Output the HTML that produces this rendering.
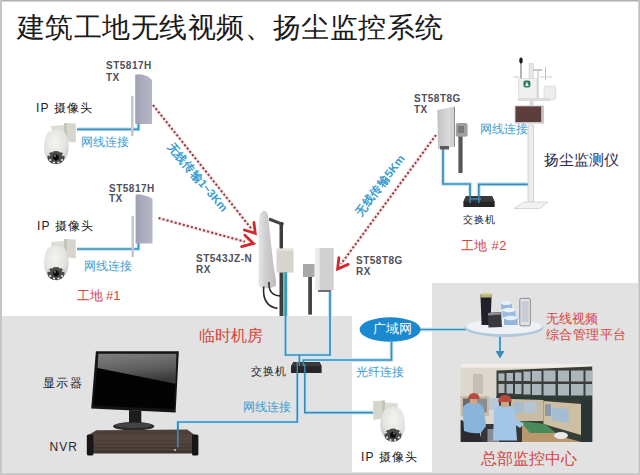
<!DOCTYPE html>
<html><head><meta charset="utf-8">
<style>
html,body{margin:0;padding:0;}
body{width:640px;height:475px;position:relative;overflow:hidden;background:#fff;font-family:"Liberation Sans",sans-serif;}
.t{position:absolute;white-space:nowrap;line-height:1;}
.lbl{font-size:10px;color:#50505a;letter-spacing:0.5px;font-weight:bold;}
.cn{font-size:12px;color:#222;letter-spacing:1.2px;font-weight:500;}
.blue{color:#3a9cd0;font-size:12px;}
.red{color:#d4453f;}
svg{position:absolute;left:0;top:0;}
</style></head>
<body>
<svg width="640" height="475" viewBox="0 0 640 475">
  <defs>
    <linearGradient id="panelg" x1="0" x2="1" y1="0" y2="0">
      <stop offset="0" stop-color="#9ea0b2"/><stop offset="0.35" stop-color="#a9abbc"/><stop offset="1" stop-color="#b4b6c6"/>
    </linearGradient>
    <linearGradient id="refl" x1="0" x2="0.25" y1="0" y2="1">
      <stop offset="0" stop-color="#808080"/><stop offset="0.6" stop-color="#5e5e5e"/><stop offset="1" stop-color="#3a3a3a"/>
    </linearGradient>
    <linearGradient id="sector" x1="0" x2="1" y1="0" y2="0">
      <stop offset="0" stop-color="#e6e6e6"/><stop offset="0.4" stop-color="#cfcfd2"/><stop offset="1" stop-color="#bdbdc0"/>
    </linearGradient>
    <linearGradient id="txr" x1="0" x2="1" y1="0" y2="0"><stop offset="0" stop-color="#c2c2c4"/><stop offset="1" stop-color="#dcdcde"/></linearGradient>
    <radialGradient id="dome" cx="0.45" cy="0.35" r="0.75">
      <stop offset="0" stop-color="#f4f4f2"/><stop offset="0.6" stop-color="#e2e2de"/><stop offset="1" stop-color="#b8b8b4"/>
    </radialGradient>
    <linearGradient id="nvrf" x1="0" x2="0" y1="0" y2="1">
      <stop offset="0" stop-color="#56463f"/><stop offset="1" stop-color="#3e332e"/>
    </linearGradient>
    <g id="cam">
      <path d="M26,7 L37.8,7.5 L37.8,26.5 L26,25 Z" fill="#d6d6cc"/>
      <path d="M26,7 L29,7 L29,25.5 L26,25 Z" fill="#c4c4b8"/>
      <path d="M13,10 L26,9 L26,17 L14,17 Z" fill="#dcdcd4"/>
      <path d="M10,16 Q6,22 6,31 Q6,45 18.3,48.7 Q30.6,45 30.6,31 Q30.6,22 26.6,16 Q23,13.5 18.3,13.5 Q13.6,13.5 10,16 Z" fill="url(#dome)"/>
      <ellipse cx="18" cy="41.5" rx="8.6" ry="6.6" fill="#4a4a4a"/>
      <g fill="#e8e8e8">
        <circle cx="11.2" cy="39" r="1.1"/><circle cx="12.2" cy="44" r="1.1"/><circle cx="16" cy="46.5" r="1.1"/><circle cx="20.5" cy="46.5" r="1.1"/><circle cx="24" cy="44" r="1.1"/><circle cx="25" cy="39" r="1.1"/><circle cx="14" cy="35.5" r="1"/><circle cx="22" cy="35.5" r="1"/>
      </g>
      <circle cx="18" cy="41.5" r="2.9" fill="#0a0a0a"/>
      <circle cx="17" cy="40" r="0.9" fill="#888"/>
    </g>
  </defs>
  <!-- frame -->
  <rect x="0" y="0" width="640" height="475" fill="#fff"/>
  <!-- gray regions -->
  <rect x="2" y="316" width="350" height="156" fill="#e2e2e2"/>
  <rect x="432" y="283" width="206" height="189" fill="#e2e2e2"/>
  <rect x="0" y="0" width="640" height="1.5" fill="#b0b0b0"/>
  <rect x="0" y="0" width="2" height="475" fill="#c6c6c6"/>
  <rect x="638.3" y="0" width="1.7" height="475" fill="#c0c0c0"/>
  <rect x="0" y="472.5" width="640" height="2.5" fill="#c8c8c8"/>

  <!-- blue lines -->
  <g stroke="#c4e8f8" stroke-width="4" fill="none" stroke-linejoin="miter">
    <polyline points="77,129.3 138.5,129.3 138.5,124"/>
    <polyline points="77,249 138.5,249 138.5,243"/>
    <polyline points="285.5,272 285.5,355 330,355 330,290"/>
    <polyline points="299.4,355 299.4,362"/>
    <polyline points="303.3,362 303.3,360 391.5,360 391.5,342"/>
    <polyline points="297.3,372 297.3,422 177.8,422 177.8,447.2"/>
    <polyline points="304.8,372 304.8,412.6 373,412.6"/>
    <polyline points="420,329.5 466,329.5"/>
    <polyline points="443,149 443,184 470,184 470,196"/>
    <polyline points="478.8,196 478.8,184.3 528,184.3"/>
    <polyline points="500,336 500,353"/>
  </g>
  <g stroke="#3c8ab6" stroke-width="1.7" fill="none">
    <polyline points="77,129.3 138.5,129.3 138.5,124"/>
    <polyline points="77,249 138.5,249 138.5,243"/>
    <polyline points="285.5,272 285.5,355 330,355 330,290"/>
    <polyline points="299.4,355 299.4,362"/>
    <polyline points="303.3,362 303.3,360 391.5,360 391.5,342"/>
    <polyline points="297.3,372 297.3,422 177.8,422 177.8,447.2"/>
    <polyline points="304.8,372 304.8,412.6 373,412.6"/>
    <polyline points="420,329.5 466,329.5"/>
    <polyline points="443,149 443,184 470,184 470,196"/>
    <polyline points="478.8,196 478.8,184.3 528,184.3"/>
    <polyline points="500,336 500,353"/>
  </g>
  <path d="M495.5,351 L500,358.5 L504.5,351 Z" fill="#3c8ab6"/>

  <!-- red dashed arrows -->
  <g stroke="#f8e2e2" stroke-width="3.6" fill="none">
    <line x1="153" y1="105" x2="252" y2="229.5"/>
    <line x1="158.5" y1="218" x2="245" y2="241.7"/>
    <line x1="436" y1="135" x2="341" y2="264"/>
  </g>
  <g stroke="#8a3c44" stroke-width="2" stroke-dasharray="2,2.2" fill="none">
    <line x1="153" y1="105" x2="252" y2="229.5"/>
    <line x1="158.5" y1="218" x2="245" y2="241.7"/>
    <line x1="436" y1="135" x2="341" y2="264"/>
  </g>
  <g stroke="#d02a2e" stroke-width="2.8" fill="none" stroke-linecap="round" stroke-linejoin="miter">
    <polyline points="244.4,230 255.3,233.4 253.9,222.5"/>
    <polyline points="244.9,235.3 253.4,243.4 241.6,246.7"/>
    <polyline points="338.9,257.7 337.6,269 348.2,264.4"/>
  </g>

  <!-- TX antenna 1 -->
  <rect x="131" y="96" width="2.5" height="40" fill="#c6c6cc"/>
  <path d="M135.2,75 Q136,74 140,74.3 Q148,75.5 152,80 L152,124 L135.2,124 Z" fill="url(#panelg)"/>
  <!-- TX antenna 2 -->
  <rect x="131.5" y="216" width="2.5" height="41" fill="#c6c6cc"/>
  <path d="M135.6,195 Q136.5,194.2 140,194.4 Q148,195.5 152.5,199 L152.5,243.4 L135.6,243.4 Z" fill="url(#panelg)"/>

  <!-- cameras -->
  <use href="#cam" x="38" y="116"/>
  <use href="#cam" x="38" y="232"/>
  <g transform="translate(411,393.5) scale(-1,1)"><use href="#cam"/></g>

  <!-- center sector antenna -->
  <path d="M269,219 L283.5,224.6" stroke="#444" stroke-width="3"/>
  <rect x="279.5" y="222" width="3.5" height="94" fill="#3e3e3e"/>
  <path d="M258.5,284 L258.8,222 Q259.5,210.7 264,210.7 Q267.5,211 268,216 L273.4,265 L276,280 L276,286 Q270,289 262,288 Q258.5,287.5 258.5,284 Z" fill="url(#sector)"/>
  <path d="M263.7,286.5 Q262,306 277.4,308.4" stroke="#2a2a2a" stroke-width="1.6" fill="none"/>
  <path d="M269,282 Q268,296 281.5,296" stroke="#2a2a2a" stroke-width="1.6" fill="none"/>
  <rect x="276.5" y="248.6" width="17" height="24" fill="#d6d4cc"/>
  <rect x="276.5" y="248.6" width="17" height="2" fill="#e8e6e0"/>
  <g stroke="#3aa0b4" stroke-width="1.3"><line x1="284" y1="272" x2="284" y2="316"/><line x1="286.5" y1="272" x2="286.5" y2="316"/></g>

  <!-- right RX panel -->
  <rect x="308.2" y="276" width="3.8" height="38.6" fill="#454545"/>
  <rect x="303" y="264" width="11.5" height="13" fill="#a8a8a8"/>
  <rect x="315.7" y="248" width="18" height="42" fill="#d0d0d2"/>
  <rect x="315.7" y="248" width="4" height="42" fill="#ececec"/>
  <rect x="318" y="290" width="13" height="2" fill="#707070"/>

  <!-- TX right antenna -->
  <rect x="458.4" y="136" width="4.2" height="37" fill="#585858"/>
  <rect x="455.8" y="123" width="11.8" height="13.8" rx="2" fill="#a0a0a0"/>
  <rect x="458" y="126" width="6" height="7" fill="#787878"/>
  <path d="M437.3,110 L450,107.5 L450,147.5 L438,149 Z" fill="url(#txr)"/>
  <path d="M450,107.5 L455,106.5 L455,146.5 L450,147.5 Z" fill="#d2d2d2"/>
  <line x1="454.5" y1="106.8" x2="454.5" y2="146.6" stroke="#8a8a8a" stroke-width="1"/>
  <rect x="440" y="146" width="9" height="3.5" fill="#5a5a5a"/>

  <!-- switches -->
  <path d="M466,196 L492,196 L494.7,201.7 L494.7,207 L463.4,207 L463.4,201.7 Z" fill="#262628"/>
  <path d="M466,196 L492,196 L494.7,201.7 L463.4,201.7 Z" fill="#3a3a3c"/>
  <g stroke="#3c8ab6" stroke-width="1.4"><line x1="470" y1="196" x2="470" y2="203"/><line x1="478.8" y1="196" x2="478.8" y2="203"/><line x1="470" y1="199" x2="481" y2="199"/></g>
  <path d="M293.5,362 L319.5,362 L321.6,366.2 L321.6,372.9 L291,372.9 L291,366.2 Z" fill="#262628"/>
  <path d="M293.5,362 L319.5,362 L321.6,366.2 L291,366.2 Z" fill="#3a3a3c"/>
  <g stroke="#3c8ab6" stroke-width="1.4"><line x1="297.3" y1="362" x2="297.3" y2="373"/><line x1="299.4" y1="362" x2="299.4" y2="366"/><line x1="303.3" y1="362" x2="303.3" y2="366"/><line x1="304.8" y1="364" x2="304.8" y2="373"/></g>

  <!-- dust monitor -->
  <rect x="528" y="125" width="5.5" height="78" fill="#ececec" stroke="#c4c4c4" stroke-width="0.7"/>
  <path d="M514,208.5 L524,202 L548,202 L540,208.5 Z" fill="#f2f2f2" stroke="#c8c8c8" stroke-width="0.7"/>
  <rect x="514.7" y="105.5" width="29.3" height="18.1" fill="#c8c8c8"/>
  <rect x="515.5" y="106.4" width="25.7" height="15.6" fill="#5e3e3c"/>
  <line x1="521" y1="62" x2="521" y2="79" stroke="#8a8a8a" stroke-width="1.3"/>
  <ellipse cx="521" cy="60.5" rx="1.7" ry="3" fill="#1a1a1a"/>
  <rect x="529" y="63.4" width="4.6" height="15" fill="#e6e6e6" stroke="#d2d2d2" stroke-width="0.6"/>
  <line x1="533" y1="70" x2="542" y2="70" stroke="#9a9a9a" stroke-width="1.1"/>
  <line x1="538" y1="70" x2="538" y2="98" stroke="#c8c8c8" stroke-width="1.3"/>
  <line x1="545.5" y1="67" x2="545.5" y2="80" stroke="#c0c0c0" stroke-width="1"/>
  <line x1="540" y1="77" x2="552" y2="77" stroke="#d0d0d0" stroke-width="1"/>
  <line x1="514" y1="77" x2="519" y2="77" stroke="#c8c8c8" stroke-width="1"/>
  <rect x="518.8" y="78.7" width="18.2" height="21" fill="#f0f0f0" stroke="#cdcdcd" stroke-width="0.6"/>
  <rect x="523.4" y="80.4" width="7" height="7" rx="2" fill="#2b7d5e"/>
  <path d="M525,86 L526.9,81.5 L528.8,86 Z" fill="#e8f0e8"/>
  <rect x="544" y="86" width="11.7" height="13.7" rx="2" fill="#ededed" stroke="#cfcfcf" stroke-width="0.6"/>
  <rect x="518" y="98" width="32" height="3" fill="#dcdcdc"/>
  <rect x="529.5" y="101" width="4" height="5" fill="#d8d8d8"/>

  <!-- monitor -->
  <path d="M95.9,351.3 L178.8,351.3 L175.6,412.5 L91.2,408.5 Z" fill="#141414"/>
  <path d="M98.3,353.7 L176.4,353.7 L174,409 L93.5,405.8 Z" fill="#030303"/>
  <path d="M98.3,353.7 L176.4,353.7 L175.6,383.7 L97.5,368 Z" fill="url(#refl)"/>
  <path d="M129,410 L141.3,410.5 L141.3,424 L129,424 Z" fill="#1c1c1c"/>
  <ellipse cx="133.7" cy="426.3" rx="20.7" ry="4.3" fill="#2a2a2a"/>
  <ellipse cx="133.7" cy="425.3" rx="18" ry="2.6" fill="#444"/>
  <!-- NVR -->
  <path d="M86.9,436 L96.3,430.3 L187.2,429.4 L196,436 Z" fill="#4c403c"/>
  <rect x="86.9" y="435" width="110.6" height="18.5" fill="url(#nvrf)"/>
  <g stroke="#5a4c48" stroke-width="0.8"><line x1="94" y1="439" x2="191" y2="439"/><line x1="94" y1="442.5" x2="191" y2="442.5"/><line x1="94" y1="446" x2="191" y2="446"/><line x1="94" y1="449.5" x2="191" y2="449.5"/></g>
  <rect x="86.9" y="434.5" width="6.5" height="21" rx="1.5" fill="#161616"/>
  <rect x="192" y="434.5" width="6.4" height="21" rx="1.5" fill="#161616"/>
  <circle cx="175" cy="450" r="0.9" fill="#ddd"/>
  <polyline points="177.8,422 177.8,447.2" stroke="#3c8ab6" stroke-width="1.7" fill="none"/>

  <!-- WAN ellipse -->
  <ellipse cx="390.1" cy="329.5" rx="30.5" ry="12.2" fill="#1b89d0"/>

  <!-- platform -->
  <ellipse cx="504" cy="328" rx="39" ry="9" fill="#b4c8dc"/>
  <ellipse cx="504" cy="326.5" rx="38" ry="7.5" fill="#eef2f6"/>
  <path d="M480.4,294 L491.6,294 L490.5,325 L481.6,325 Z" fill="#20202a"/>
  <ellipse cx="486" cy="294.5" rx="5.6" ry="2.2" fill="#d8d49a"/>
  <rect x="480.4" y="294.5" width="11.2" height="3" fill="#b8b47a"/>
  <path d="M488,313 L501,312 L502,327 L488.5,327.5 Z" fill="#38383c"/>
  <path d="M488,313 L501,312 L502,314.5 L488.2,315.5 Z" fill="#8a8a90"/>
  <g>
    <rect x="501" y="303" width="11" height="6" fill="#98b8dc"/><ellipse cx="506.5" cy="303" rx="5.5" ry="2" fill="#e8f0f8"/>
    <rect x="502.5" y="310" width="13" height="7" fill="#9cbce0"/><ellipse cx="509" cy="310" rx="6.5" ry="2.2" fill="#eaf2fa"/>
    <rect x="504" y="318" width="13.7" height="7" fill="#94b4d8"/><ellipse cx="510.8" cy="318" rx="6.8" ry="2.2" fill="#e4eef8"/>
  </g>
  <rect x="519.8" y="298.4" width="10.5" height="27.4" rx="1.5" fill="#e2e2e6" stroke="#80808a" stroke-width="0.9"/>
  <rect x="521.5" y="301" width="7" height="21" fill="#c8ccd4"/>

  <!-- control center photo -->
  <rect x="460.6" y="363.6" width="131.6" height="78.4" fill="#ddd8ce"/>
  <rect x="460.6" y="363.6" width="131.6" height="4" fill="#f0ede6"/>
  <rect x="473" y="374" width="10" height="20" fill="#c4c0b8"/>
  <path d="M496.5,370.5 L592.2,366.5 L592.2,442 L496.5,442 Z" fill="#3a3e38"/>
  <g fill="#aab6bc">
    <rect x="498.5" y="373.4" width="6" height="7.5"/><rect x="506.5" y="373" width="6.5" height="8"/><rect x="515" y="372.5" width="6.5" height="8.5"/><rect x="523.5" y="371.5" width="7" height="9.5"/><rect x="532" y="371" width="9.5" height="10.5"/><rect x="543.5" y="370.5" width="12" height="11"/><rect x="558" y="370.5" width="11" height="11"/><rect x="571" y="370.5" width="12.5" height="11"/><rect x="585.5" y="370.5" width="6.5" height="11"/>
    <rect x="498.5" y="384" width="6" height="9"/><rect x="506.5" y="384" width="6.5" height="9.5"/><rect x="515" y="384" width="6.5" height="10"/><rect x="523.5" y="384" width="7" height="10.5"/><rect x="532" y="384" width="9.5" height="11"/><rect x="543.5" y="384" width="12" height="11.5"/><rect x="558" y="384" width="11" height="11.5"/><rect x="571" y="384" width="12.5" height="11.5"/><rect x="585.5" y="384" width="6.5" height="11.5"/>
  </g>
  <rect x="496.5" y="396" width="95.7" height="4.5" fill="#2e3a36"/>
  <rect x="581" y="400" width="11.2" height="42" fill="#2a3636"/>
  <!-- left monitors -->
  <path d="M460.6,396 L489,396 L489,416 L460.6,416 Z" fill="#c8bca8"/>
  <rect x="463" y="398.5" width="10" height="14" fill="#6a6a68"/>
  <rect x="476" y="398.5" width="11" height="14" fill="#8a8e90"/>
  <rect x="489" y="398" width="10" height="12" fill="#b8c8d8"/>
  <!-- desk monitors -->
  <path d="M511,399 L543.5,400 L543.5,421 L511,421 Z" fill="#c8bca4"/>
  <rect x="514" y="402" width="10" height="11" fill="#a8bcd0"/>
  <rect x="524.5" y="402" width="12" height="11" fill="#b4c4d4"/>
  <path d="M543.5,401 L581,404 L581,435 L543.5,424 Z" fill="#cdbfa4"/>
  <path d="M552,407.4 L568.5,409 L568.5,423 L552,420 Z" fill="#a4bcd4"/>
  <rect x="545" y="404" width="6" height="12" fill="#8a9aa8"/>
  <!-- desk -->
  <path d="M500,425 L540,424 L560,436 L581,442 L500,442 Z" fill="#b8986c"/>
  <path d="M520,421 L545,424 L556,433 L530,433 Z" fill="#4a8a5a"/>
  <ellipse cx="561" cy="435.5" rx="7" ry="3.5" fill="#e8e8e8"/>
  <path d="M481,424 L522,424 L522,442 L481,442 Z" fill="#34363a"/>
  <!-- chairs -->
  <path d="M460.6,420 L478,425 L482,442 L460.6,442 Z" fill="#2a2a30"/>
  <path d="M487.5,429 L499,429 L499,442 L487.5,442 Z" fill="#8a8c94"/>
  <!-- people -->
  <path d="M462.5,408 Q466,402 474,401.5 Q482,402.5 484,410 L486,426 L481,433 Q472,434 464,431 Z" fill="#88b4dc"/>
  <rect x="470" y="399" width="7" height="5" fill="#c8a888"/>
  <path d="M468,399 Q468.5,393 474,393 Q479.5,393 479.5,399 Z" fill="#b84a3e"/>
  <path d="M494,410 Q497,405 505,405 Q513,405 515,412 L517,440.6 L493,440.6 Z" fill="#a4c6e6"/>
  <rect x="501" y="402" width="8" height="5" fill="#c8a888"/>
  <path d="M498,402 Q498.5,395 505,395 Q511.5,395 511.7,402 Z" fill="#b84a3e"/>
  <path d="M515,418 L524,424 L520,428 L514,424 Z" fill="#a4c6e6"/>
</svg>

<!-- texts -->
<div class="t" style="left:17px;top:13.8px;font-size:28px;color:#1a1a1a;font-weight:300;letter-spacing:0.45px;">建筑工地无线视频、扬尘监控系统</div>

<div class="t lbl" style="left:106px;top:61px;">ST5817H</div>
<div class="t lbl" style="left:106px;top:72.5px;">TX</div>
<div class="t cn" style="left:36px;top:101.5px;">IP 摄像头</div>
<div class="t blue" style="left:81px;top:136px;">网线连接</div>

<div class="t lbl" style="left:109px;top:183.5px;">ST5817H</div>
<div class="t lbl" style="left:109px;top:194px;">TX</div>
<div class="t cn" style="left:37px;top:219.5px;">IP 摄像头</div>
<div class="t blue" style="left:84px;top:260px;">网线连接</div>
<div class="t red" style="left:76.5px;top:288.5px;font-size:13px;">工地 #1</div>

<div class="t blue" id="r1" style="left:154.4px;top:172.4px;font-size:11.5px;font-weight:bold;transform:rotate(49.5deg);">无线传输1~3Km</div>

<div class="t lbl" style="left:196px;top:254px;">ST543JZ-N</div>
<div class="t lbl" style="left:196px;top:265px;">RX</div>
<div class="t lbl" style="left:356px;top:256px;">ST58T8G</div>
<div class="t lbl" style="left:356px;top:267px;">RX</div>

<div class="t blue" id="r2" style="left:343.5px;top:179.9px;font-size:11.5px;font-weight:bold;transform:rotate(-52.7deg);">无线传输5Km</div>

<div class="t lbl" style="left:414px;top:94px;">ST58T8G</div>
<div class="t lbl" style="left:414px;top:105px;">TX</div>
<div class="t blue" style="left:480px;top:122.5px;">网线连接</div>
<div class="t" style="left:543.5px;top:153px;font-size:14.5px;color:#2a2a50;">扬尘监测仪</div>
<div class="t cn" style="left:462.5px;top:214.5px;font-size:10px;letter-spacing:1px;">交换机</div>
<div class="t red" style="left:460.5px;top:238.5px;font-size:13px;letter-spacing:0.5px;">工地 #2</div>

<div class="t red" style="left:199px;top:328px;font-size:15.5px;">临时机房</div>
<div class="t cn" style="left:250.5px;top:365.5px;font-size:11px;letter-spacing:1px;">交换机</div>
<div class="t blue" style="left:242.5px;top:401px;">网线连接</div>
<div class="t cn" style="left:43px;top:376.5px;letter-spacing:1.3px;">显示器</div>
<div class="t" style="left:49.5px;top:441px;font-size:12px;color:#2a2a2a;letter-spacing:1px;">NVR</div>

<div class="t" style="left:373px;top:321.5px;font-size:13px;color:#fff;">广域网</div>
<div class="t blue" style="left:355.5px;top:366px;">光纤连接</div>
<div class="t cn" style="left:361px;top:451px;">IP 摄像头</div>

<div class="t red" style="left:546px;top:311.5px;font-size:13px;">无线视频</div>
<div class="t red" style="left:546px;top:327.5px;font-size:13px;letter-spacing:0.4px;">综合管理平台</div>
<div class="t red" style="left:481px;top:451px;font-size:16px;">总部监控中心</div>
</body></html>
